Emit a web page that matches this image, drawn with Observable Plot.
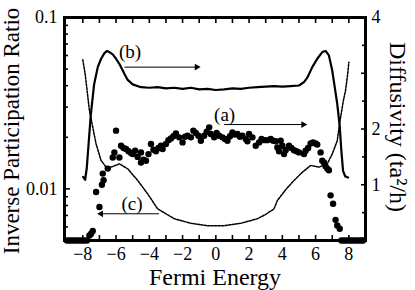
<!DOCTYPE html>
<html><head><meta charset="utf-8">
<script src="https://cdn.jsdelivr.net/npm/d3@7"></script>
<script src="https://cdn.jsdelivr.net/npm/@observablehq/plot@0.6"></script>
<style>body{margin:0;background:#fff}</style>
</head><body><div id="chart"></div>
<script>
// (b) diffusivity, solid line (right axis)
const bEnergy = [-7.98,-7.86,-7.76,-7.66,-7.52,-7.32,-7.1,-6.9,-6.7,-6.55,-6.4,-6.2,-6.0,-5.75,-5.5,-5.3,-5.0,-4.5,-4.0,-3.5,-3.0,-2.5,-2.0,-1.5,-1.0,-0.5,0,0.5,1.0,1.5,2.0,2.5,3.0,3.5,4.0,4.5,5.0,5.3,5.5,5.8,6.1,6.4,6.6,6.8,7.0,7.1,7.3,7.45,7.55,7.65,7.78,7.95];
const bDiff   = [1.14,1.09,1.30,1.70,2.25,2.80,3.11,3.26,3.36,3.40,3.38,3.34,3.26,3.14,2.99,2.88,2.80,2.75,2.74,2.75,2.73,2.74,2.72,2.74,2.71,2.72,2.70,2.71,2.73,2.72,2.74,2.75,2.76,2.77,2.76,2.77,2.78,2.84,2.92,3.11,3.26,3.38,3.40,3.32,3.05,2.85,2.45,2.05,1.60,1.25,1.15,1.13];

// (c) inverse participation ratio, dotted line (left axis)
const cEnergy = [-8.0,-7.86,-7.74,-7.6,-7.4,-7.2,-6.9,-6.6,-6.3,-5.8,-5.3,-4.7,-4.1,-3.5,-3.0,-2.5,-1.5,-0.5,0,0.5,1.5,2.5,3.0,3.5,3.7,4.2,4.7,5.2,5.7,6.2,6.7,7.0,7.3,7.47,7.67,7.8,7.93,8.0];
const cIpr    = [0.0567,0.047,0.0375,0.0286,0.0229,0.0183,0.01465,0.0134,0.0134,0.0140,0.0131,0.0112,0.00936,0.00765,0.00716,0.0067,0.0063,0.0061,0.0061,0.0061,0.0063,0.0067,0.0071,0.00765,0.00855,0.0099,0.0112,0.0125,0.0137,0.0134,0.0140,0.0160,0.0191,0.0251,0.0328,0.0375,0.047,0.0548];

// (a) diffusivity, dots (right axis)
const aEnergy = [-8.95,-8.8,-8.65,-8.5,-8.35,-8.2,-8.05,-7.9,-7.75,-7.6,-7.5,-7.4,-7.2,-7.0,-6.85,-6.75,-6.8,-6.5,-6.2,-6.1,-6.0,-5.8,-5.7,-5.55,-5.4,-5.25,-5.1,-5.0,-4.85,-4.7,-4.5,-4.5,-4.35,-4.2,-4.05,-3.9,-3.75,-3.6,-3.45,-3.3,-3.2,-3.0,-2.85,-2.7,-2.55,-2.4,-2.2,-2.0,-1.85,-1.7,-1.5,-1.35,-1.2,-1.05,-0.9,-0.7,-0.55,-0.4,-0.3,-0.1,0.05,0.2,0.4,0.55,0.7,0.85,1.0,1.15,1.3,1.45,1.6,1.8,1.9,2.0,2.2,2.4,2.6,2.75,2.9,3.1,3.3,3.45,3.6,3.7,3.8,3.9,4.0,4.1,4.2,4.4,4.55,4.7,4.85,5.0,5.3,5.4,5.55,5.7,5.85,6.0,6.1,6.3,6.4,6.5,6.6,6.7,6.8,6.9,7.05,7.2,7.3,7.45,7.55,7.7,7.85,8.0,8.15,8.3,8.45,8.6,8.75,8.85];
const aDiff   = [0,0,0,0,0,0,0,0,0,0.09,0.12,0.17,0.87,0.60,1.0,1.08,1.20,1.29,1.49,1.58,1.97,1.49,1.70,1.66,1.64,1.60,1.57,1.55,1.61,1.50,1.40,1.58,1.45,1.43,1.55,1.73,1.63,1.60,1.66,1.70,1.64,1.73,1.80,1.83,1.87,1.92,1.85,1.76,1.86,1.88,1.85,1.97,1.93,1.88,1.79,1.88,1.95,2.03,1.91,1.85,1.93,1.88,1.85,1.82,1.79,1.87,1.94,1.90,1.91,1.86,1.88,1.82,1.78,1.91,1.85,1.70,1.76,1.82,1.80,1.80,1.82,1.79,1.78,1.67,1.60,1.79,1.70,1.55,1.62,1.70,1.66,1.62,1.60,1.58,1.55,1.61,1.66,1.74,1.76,1.74,1.72,1.58,1.43,1.40,1.33,1.29,1.26,0.81,0.66,0.37,0.27,0.21,0,0,0,0,0,0,0,0,0,0];

// annotations
const arrowLabels = ["(a)", "(b)", "(c)"];
const arrowFrom   = [0.5, -5.5, -3.42];
const arrowTo     = [5.26, -1.15, -6.9];
const arrowLevel  = [2.08, 3.11, null];      // diffusivity level (right axis)
const arrowIpr    = [null, null, 0.00716];   // IPR level (left axis)
const labelE      = [0.53, -5.16, -5.04];
const labelDiff   = [2.26, 3.39, null];
const labelIpr    = [null, null, 0.0082];

// axes
const xLabelTicks = [-8,-6,-4,-2,0,2,4,6,8];
const xMinorTicks = [-8,-7,-6,-5,-4,-3,-2,-1,0,1,2,3,4,5,6,7,8];
const iprMajor = [0.01, 0.1];
const iprMinor = [0.005,0.006,0.007,0.008,0.009,0.02,0.03,0.04,0.05,0.06,0.07,0.08,0.09];
const diffMajor = [0,1,2,3,4];
const diffMinor = [0.5,1.5,2.5,3.5];

const IPR_MIN = 0.005, IPR_MAX = 0.1, D_MAX = 4;
const dToY = d => IPR_MIN * Math.pow(IPR_MAX / IPR_MIN, d / D_MAX);
const yToD = v => D_MAX * Math.log(v / IPR_MIN) / Math.log(IPR_MAX / IPR_MIN);

const bData = bEnergy.map((e, i) => ({E: e, y: dToY(bDiff[i])}));
const cData = cEnergy.map((e, i) => ({E: e, y: cIpr[i]}));
const aData = aEnergy.map((e, i) => ({E: e, y: dToY(aDiff[i])}));
const arrows = arrowLabels.map((l, i) => ({
  x1: arrowFrom[i], x2: arrowTo[i],
  y: arrowIpr[i] != null ? arrowIpr[i] : dToY(arrowLevel[i]),
  lx: labelE[i], ly: labelIpr[i] != null ? labelIpr[i] : dToY(labelDiff[i]), label: l
}));

const blank = () => "";
const serif = "'Liberation Serif', 'Times New Roman', serif";
const chart = Plot.plot({
  width: 415, height: 290,
  marginLeft: 64, marginRight: 50, marginTop: 17, marginBottom: 50,
  style: {fontFamily: serif, fontSize: "18px", background: "white", color: "black"},
  x: {domain: [-9.1, 9.0], axis: null},
  y: {type: "log", domain: [IPR_MIN, IPR_MAX], axis: null},
  marks: [
    // bottom / top ticks (inward)
    Plot.axisX(xMinorTicks, {anchor: "bottom", tickSize: -5, strokeWidth: 1.6, tickFormat: blank, label: null}),
    Plot.axisX(xMinorTicks, {anchor: "top", tickSize: -5, strokeWidth: 1.6, tickFormat: blank, label: null}),
    Plot.axisX(xLabelTicks, {anchor: "bottom", tickSize: 0, tickPadding: 7, fontSize: 18, fontFamily: serif, label: null}),
    // left axis (IPR, log)
    Plot.axisY(iprMajor, {anchor: "left", tickSize: -6, strokeWidth: 1.6, tickFormat: blank, label: null}),
    Plot.axisY(iprMinor, {anchor: "left", tickSize: -4, strokeWidth: 1.6, tickFormat: blank, label: null}),
    Plot.axisY(iprMajor, {anchor: "left", tickSize: 0, tickPadding: 7, fontSize: 18, fontFamily: serif, tickFormat: d => String(d), label: null}),
    // right axis (diffusivity, linear)
    Plot.axisY(diffMajor.map(dToY), {anchor: "right", tickSize: -5, strokeWidth: 1.6, tickFormat: blank, label: null}),
    Plot.axisY(diffMinor.map(dToY), {anchor: "right", tickSize: -4, strokeWidth: 1.6, tickFormat: blank, label: null}),
    Plot.axisY(diffMajor.map(dToY), {anchor: "right", tickSize: 0, tickPadding: 6, fontSize: 18, fontFamily: serif, tickFormat: v => String(Math.round(yToD(v))), label: null}),
    // data
    Plot.line(cData, {x: "E", y: "y", stroke: "black", strokeWidth: 1.5, strokeDasharray: "2.2,1.3"}),
    Plot.line(bData, {x: "E", y: "y", stroke: "black", strokeWidth: 2.2}),
    Plot.dot(aData, {x: "E", y: "y", r: 3.2, fill: "black", stroke: "none"}),
    // annotations
    Plot.link(arrows, {x1: "x1", x2: "x2", y1: "y", y2: "y", stroke: "black", strokeWidth: 1}),
    Plot.dot(arrows, {x: "x2", y: "y", symbol: "triangle", rotate: d => d.x2 > d.x1 ? 90 : -90, r: 2.5, fill: "black", stroke: "none"}),
    Plot.text(arrows, {x: "lx", y: "ly", text: "label", fontSize: 19, fontFamily: serif}),
    // axis titles
    Plot.text(["Inverse Participation Ratio"], {text: d => d, frameAnchor: "left", textAnchor: "middle", lineAnchor: "middle", dx: -53, dy: 2, rotate: -90, fontSize: 23, fontFamily: serif}),
    Plot.text(["Diffusivity (ta²/h)"], {text: d => d, frameAnchor: "right", textAnchor: "middle", lineAnchor: "middle", dx: 32, dy: -2, rotate: 90, fontSize: 24, fontFamily: serif}),
    Plot.text(["Fermi Energy"], {text: d => d, frameAnchor: "bottom", textAnchor: "middle", lineAnchor: "middle", dy: 37, fontSize: 24, fontFamily: serif}),
    Plot.frame({stroke: "black", strokeWidth: 3})
  ]
});
document.getElementById("chart").appendChild(chart);
</script>
</body></html>
